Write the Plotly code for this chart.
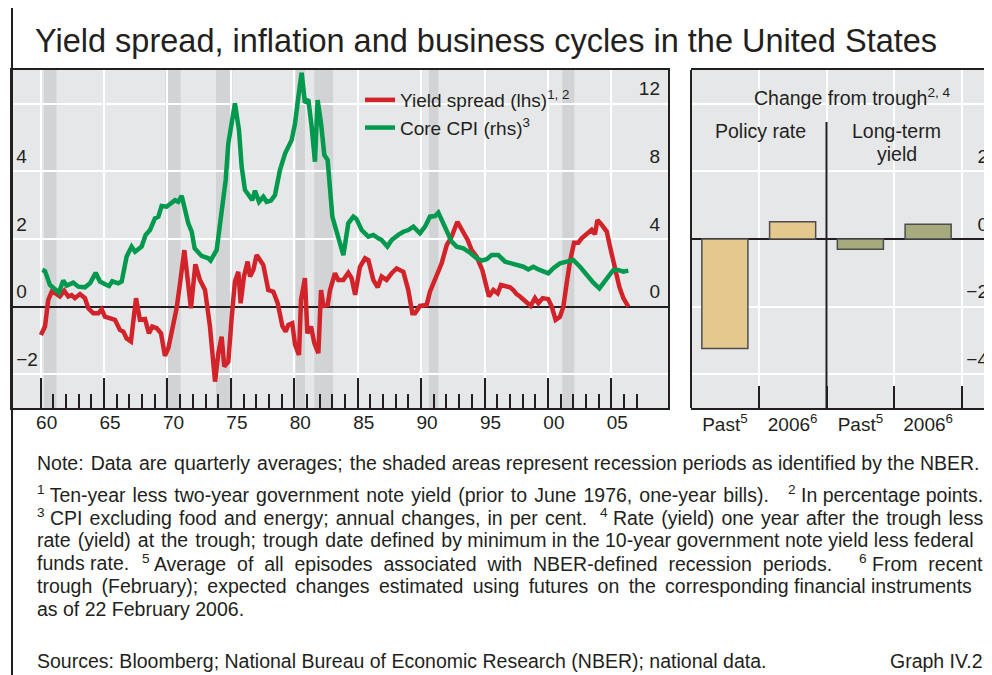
import plotly.graph_objects as go

# ---- data ----
spread_year = [1960.02, 1960.34, 1960.6, 1960.87, 1961.26, 1961.52, 1961.86, 1962.18, 1962.44, 1962.7,
               1963.1, 1963.49, 1963.76, 1964.15, 1964.55, 1964.81, 1965.07, 1965.47, 1965.86, 1966.25,
               1966.52, 1966.78, 1967.12, 1967.52, 1967.83, 1968.23, 1968.54, 1968.8, 1969.15, 1969.49,
               1969.8, 1970.07, 1970.46, 1970.72, 1970.99, 1971.33, 1971.85, 1972.2, 1972.56, 1972.96,
               1973.35, 1973.75, 1974.01, 1974.27, 1974.48, 1974.8, 1975.06, 1975.32, 1975.59, 1975.77,
               1976.03, 1976.32, 1976.51, 1976.77, 1977.03, 1977.3, 1977.56, 1977.95, 1978.35, 1978.69,
               1979.06, 1979.32, 1979.53, 1979.84, 1980.06, 1980.37, 1980.53, 1980.84, 1981.03, 1981.32,
               1981.58, 1981.9, 1982.11, 1982.29, 1982.63, 1982.82, 1983.21, 1983.47, 1983.87, 1984.26,
               1984.52, 1984.8, 1985.18, 1985.58, 1985.84, 1986.23, 1986.58, 1986.89, 1987.28, 1987.68,
               1988.07, 1988.6, 1988.99, 1989.31, 1989.52, 1989.91, 1990.44, 1990.7, 1991.1, 1991.62,
               1992.02, 1992.41, 1992.86, 1993.25, 1993.67, 1993.99, 1994.38, 1994.83, 1995.09, 1995.35,
               1995.7, 1996.04, 1996.3, 1996.75, 1997.01, 1997.27, 1997.53, 1997.8, 1998.06, 1998.64,
               1998.98, 1999.25, 1999.59, 2000.03, 2000.3, 2000.61, 2000.95, 2001.22, 2001.48, 2001.74,
               2002.06, 2002.4, 2002.66, 2003.06, 2003.45, 2003.71, 2003.9, 2004.16, 2004.64, 2004.9,
               2005.21, 2005.63, 2005.95, 2006.34]
spread_val = [-0.84, -0.59, 0.20, 0.44, 0.37, 0.30, 0.47, 0.30, 0.34, 0.25,
              0.37, 0.25, -0.05, -0.20, -0.20, -0.08, -0.30, -0.34, -0.39, -0.69,
              -0.74, -0.94, -1.03, 0.25, -0.39, -0.37, -0.79, -0.59, -0.64, -0.79,
              -1.46, -1.23, -0.49, -0.05, 0.69, 1.67, -0.05, 1.25, 0.79, 0.49,
              -0.59, -2.22, -1.38, -0.89, -1.77, -1.63, -0.34, 0.74, 1.03, 0.10,
              0.89, 1.33, 0.89, 1.08, 1.53, 1.38, 1.23, 0.49, 0.44, 0.10,
              -0.57, -0.74, -0.54, -0.49, -1.13, -1.43, 0.20, 0.84, -0.79, -0.59,
              -1.08, -1.38, 0.49, 0.02, 0.05, 0.49, 0.99, 0.79, 0.79, 1.00,
              0.84, 0.35, 1.18, 1.43, 1.38, 0.79, 0.57, 0.89, 0.79, 0.99,
              1.13, 1.03, 0.49, -0.20, -0.20, 0.02, 0.05, 0.44, 0.79, 1.28,
              1.82, 2.07, 2.51, 2.27, 1.97, 1.67, 1.48, 1.08, 0.69, 0.30,
              0.49, 0.39, 0.64, 0.59, 0.57, 0.49, 0.37, 0.30, 0.20, 0.02,
              0.25, 0.10, 0.25, 0.22, 0.00, -0.39, -0.30, 0.00, 0.69, 1.33,
              1.89, 1.89, 2.02, 2.17, 2.27, 2.14, 2.56, 2.46, 2.22, 1.77,
              1.28, 0.59, 0.25, 0.00]

cpi_year = [1960.13, 1960.34, 1960.73, 1961.26, 1961.44, 1961.78, 1962.05, 1962.57, 1962.97, 1963.49,
            1963.89, 1964.34, 1964.68, 1965.2, 1965.39, 1965.65, 1966.12, 1966.39, 1966.78, 1967.17,
            1967.44, 1967.96, 1968.28, 1968.62, 1969.01, 1969.28, 1969.54, 1969.93, 1970.59, 1970.85,
            1971.12, 1971.64, 1971.91, 1972.14, 1972.43, 1972.69, 1973.22, 1973.4, 1973.88, 1974.22,
            1974.59, 1974.8, 1975.06, 1975.32, 1975.64, 1975.85, 1976.11, 1976.51, 1976.69, 1976.9,
            1977.22, 1977.56, 1977.82, 1978.16, 1978.48, 1978.87, 1979.27, 1979.79, 1980.06, 1980.32,
            1980.58, 1980.84, 1981.11, 1981.37, 1981.63, 1981.84, 1982.11, 1982.37, 1982.63, 1983.0,
            1983.34, 1983.6, 1983.87, 1984.26, 1984.66, 1984.9, 1985.31, 1985.84, 1986.23, 1986.63,
            1986.89, 1987.34, 1987.68, 1988.2, 1988.6, 1988.99, 1989.39, 1989.91, 1990.31, 1990.7,
            1991.1, 1991.36, 1991.62, 1992.02, 1992.41, 1992.81, 1993.33, 1993.86, 1994.38, 1994.78,
            1995.17, 1995.57, 1996.09, 1996.62, 1997.14, 1997.53, 1998.06, 1998.45, 1998.85, 1999.25,
            1999.64, 2000.03, 2000.43, 2000.95, 2001.48, 2002.0, 2002.53, 2003.06, 2003.58, 2004.06,
            2004.37, 2004.77, 2005.16, 2005.55, 2005.95, 2006.34]
cpi_val = [2.17, 2.10, 1.28, 0.95, 0.83, 1.54, 1.24, 1.42, 1.18, 1.14,
           1.38, 2.00, 1.48, 1.28, 1.22, 1.50, 1.38, 1.48, 2.96, 3.55,
           3.25, 3.55, 4.24, 4.53, 5.22, 5.32, 5.95, 5.91, 6.30, 6.20,
           6.56, 4.93, 4.43, 3.45, 3.25, 3.00, 2.86, 2.72, 3.35, 5.32,
           7.49, 9.66, 11.03, 12.02, 10.44, 8.28, 6.90, 6.50, 6.30, 6.86,
           6.20, 6.50, 6.20, 6.27, 6.60, 8.08, 9.06, 9.85, 10.84, 12.41,
           13.83, 12.06, 12.26, 10.64, 8.57, 12.22, 10.84, 8.97, 8.67, 5.32,
           4.33, 3.65, 3.05, 4.93, 5.32, 5.19, 4.53, 4.14, 4.24, 4.04,
           3.94, 3.55, 3.94, 4.24, 4.43, 4.53, 4.73, 4.33, 4.73, 5.32,
           5.36, 5.56, 5.12, 4.43, 3.84, 3.55, 3.45, 3.19, 2.86, 2.72,
           2.80, 3.05, 3.05, 2.66, 2.56, 2.46, 2.36, 2.20, 2.36, 2.20,
           2.07, 1.97, 2.27, 2.56, 2.66, 2.76, 2.36, 1.87, 1.42, 1.08,
           1.38, 1.77, 2.17, 2.17, 2.07, 2.13]

rec_start = [1960.25, 1969.83, 1973.83, 1980.1, 1981.58, 1990.62, 2001.14]
rec_end = [1961.25, 1971.04, 1975.12, 1980.84, 1983.06, 1991.36, 2002.08]

bar_labels = ["Past<sup>5</sup>", "2006<sup>6</sup>", "Past<sup>5</sup>", "2006<sup>6</sup>"]
bar_change = [-3.24, 0.51, -0.30, 0.44]

year_ticks = [1960, 1965, 1970, 1975, 1980, 1985, 1990, 1995, 2000, 2005]
year_text = ["60", "65", "70", "75", "80", "85", "90", "95", "00", "05"]

# ---- styling ----
# the page body has an 8px margin, so the figure is drawn 8px in from the window corner
OFF = 8
W, H = 992 - OFF, 675 - OFF
FONT = "Liberation Sans, Arial, sans-serif"
DARK = "#231f20"
RED = "#d2232a"
GREEN = "#00994e"
BG = "#e6e7e8"
SHADE = "#d2d3d5"
TAN = "#e5c88e"
OLIVE = "#a7aa7d"

HAIR = "\u200a"
THIN = "\u2009"


def px(x):
    return (x - OFF) / W


def py(y):
    return 1 - (y - OFF) / H


def spread_words(text, gap, count=None):
    # rough stand-in for the justified lines of the footnotes:
    # widen the first `count` word gaps by `gap`
    words = text.split(" ")
    if count is None:
        count = len(words) - 1
    out = words[0]
    for i, w in enumerate(words[1:]):
        out += (gap + " " if i < count else " ") + w
    return out


fig = go.Figure()

fig.add_trace(go.Scatter(
    x=cpi_year, y=cpi_val, xaxis="x", yaxis="y3", mode="lines",
    line=dict(color=GREEN, width=4.5), name="Core CPI (rhs)<sup>3</sup>", legendrank=2
))
fig.add_trace(go.Scatter(
    x=spread_year, y=spread_val, xaxis="x", yaxis="y", mode="lines",
    line=dict(color=RED, width=4.5), name="Yield spread (lhs)<sup>1, 2</sup>", legendrank=1
))
fig.add_trace(go.Bar(
    x=[0, 1, 2, 3], y=bar_change, xaxis="x2", yaxis="y2", width=0.68,
    marker=dict(color=[TAN, TAN, OLIVE, OLIVE], line=dict(color="#4d4d4d", width=1.5)),
    showlegend=False
))

shapes = []
for s, e in zip(rec_start, rec_end):
    shapes.append(dict(type="rect", xref="x", yref="y domain", x0=s, x1=e, y0=0, y1=1,
                       fillcolor=SHADE, line=dict(width=0), layer="below"))
# left border of the right panel
shapes.append(dict(type="line", xref="paper", yref="paper", x0=px(691), x1=px(691),
                   y0=py(408), y1=py(70), line=dict(color=DARK, width=2)))
# divider between policy rate and long-term yield
shapes.append(dict(type="line", xref="x2", yref="paper", x0=1.5, x1=1.5,
                   y0=py(408), y1=py(122), line=dict(color=DARK, width=2)))
# rule down the left side of the whole graph
shapes.append(dict(type="line", xref="paper", yref="paper", x0=px(12), x1=px(12),
                   y0=0, y1=1, line=dict(color=DARK, width=2)))

annotations = []


def add_text(x, y, text, size=19.5, anchor="left"):
    annotations.append(dict(x=px(x), y=py(y), xref="paper", yref="paper", text=text,
                            showarrow=False, xanchor=anchor, yanchor="middle",
                            font=dict(family=FONT, size=size, color=DARK)))


add_text(33, 41, "Yield spread, inflation and business cycles in the United States", size=32.5)
add_text(852, 97, "Change from trough<sup>2, 4</sup>", anchor="center")
add_text(760, 131, "Policy rate", anchor="center")
add_text(896, 131, "Long-term", anchor="center")
add_text(897, 154, "yield", anchor="center")

add_text(35, 463, spread_words(
    "Note: Data are quarterly averages; the shaded areas represent recession periods as identified by the NBER.",
    HAIR, 5))
add_text(35, 494, "<sup>1</sup> " + spread_words(
    "Ten-year less two-year government note yield (prior to June 1976, one-year bills).", HAIR))
add_text(985, 494, "<sup>2</sup> In percentage points.", anchor="right")
add_text(35, 517, "<sup>3</sup> " + spread_words(
    "CPI excluding food and energy; annual changes, in per cent.", HAIR))
add_text(985, 517, "<sup>4</sup> " + spread_words(
    "Rate (yield) one year after the trough less", HAIR), anchor="right")
add_text(35, 540, spread_words(
    "rate (yield) at the trough; trough date defined by minimum in the 10-year government note yield less federal",
    HAIR, 8))
add_text(35, 563, "funds rate.")
add_text(140, 563, "<sup>5</sup> " + spread_words(
    "Average of all episodes associated with NBER-defined recession periods.", "\u00a0"))
add_text(985, 563, "<sup>6</sup> From\u00a0 recent", anchor="right")
add_text(35, 586, spread_words(
    "trough (February); expected changes estimated using futures on the corresponding financial instruments",
    THIN, 9))
add_text(35, 609, "as of 22 February 2006.")
add_text(35, 661, "Sources: Bloomberg; National Bureau of Economic Research (NBER); national data.")
add_text(985, 661, "Graph IV.2", anchor="right")

tickfont = dict(family=FONT, size=19, color=DARK)

fig.update_layout(
    width=W, height=H, autosize=False,
    margin=dict(l=0, r=0, t=0, b=0),
    paper_bgcolor="white", plot_bgcolor=BG,
    font=dict(family=FONT, size=19, color=DARK),
    showlegend=True,
    legend=dict(x=px(360), y=py(81), xanchor="left", yanchor="top",
                bgcolor="rgba(0,0,0,0)", font=dict(family=FONT, size=19, color=DARK),
                tracegroupgap=0),
    xaxis=dict(
        domain=[px(12), px(668)], range=[1957.74, 2009.47], anchor="y",
        tickvals=year_ticks, ticktext=year_text, ticklabelshift=6, ticklabelstandoff=-4,
        tickfont=tickfont,
        ticks="inside", ticklen=30, tickwidth=2, tickcolor=DARK,
        minor=dict(tickvals=[y for y in range(1961, 2008) if y % 5 != 0], ticks="inside",
                   ticklen=14, tickwidth=1.5, tickcolor=DARK, showgrid=False),
        showgrid=True, gridcolor="white", gridwidth=2, zeroline=False,
        showline=True, mirror=True, linecolor=DARK, linewidth=2,
    ),
    yaxis=dict(
        domain=[py(408), py(70)], range=[-3, 7], anchor="x",
        tickvals=[-2, 0, 2, 4], ticktext=["\u22122", "0", "2", "4"],
        ticklabelposition="inside", ticklabelshift=-15, ticklabelstandoff=5, ticks="",
        tickfont=tickfont,
        showgrid=True, gridcolor="white", gridwidth=2,
        minor=dict(tickvals=[6], ticks="", showgrid=True, gridcolor="white", gridwidth=2),
        zeroline=True, zerolinecolor=DARK, zerolinewidth=1.5,
        showline=True, mirror=True, linecolor=DARK, linewidth=2,
    ),
    yaxis3=dict(
        overlaying="y", side="right", anchor="x", range=[-6, 14],
        tickvals=[0, 4, 8, 12], ticktext=["0", "4", "8", "12"],
        ticklabelposition="inside", ticklabelshift=-15, ticklabelstandoff=5, ticks="",
        tickfont=tickfont, showgrid=False, zeroline=False, showline=False,
    ),
    xaxis2=dict(
        domain=[px(691), 1], range=[-0.5, 3.5 + 30 / 67.75], anchor="y2",
        tickvals=[0, 1, 2, 3], ticktext=bar_labels, ticks="", ticklabelstandoff=-2,
        tickfont=tickfont,
        minor=dict(tickvals=[0.5, 1.5, 2.5, 3.5], ticks="inside", ticklen=22, tickwidth=2,
                   tickcolor=DARK, showgrid=True, gridcolor="white", gridwidth=2),
        showgrid=False, zeroline=False,
        showline=True, mirror=True, linecolor=DARK, linewidth=2,
    ),
    yaxis2=dict(
        domain=[py(408), py(70)], range=[-5, 5], anchor="x2", side="right",
        tickvals=[-4, -2, 0, 2], ticktext=["\u22124", "\u22122", "0", "2"],
        ticklabelposition="inside", ticklabelshift=-15, ticklabelstandoff=1, ticks="",
        tickfont=tickfont,
        showgrid=True, gridcolor="white", gridwidth=2,
        minor=dict(tickvals=[4], ticks="", showgrid=True, gridcolor="white", gridwidth=2),
        zeroline=True, zerolinecolor=DARK, zerolinewidth=1.5, showline=False,
    ),
    shapes=shapes,
    annotations=annotations,
)

fig.write_html("out.html")
